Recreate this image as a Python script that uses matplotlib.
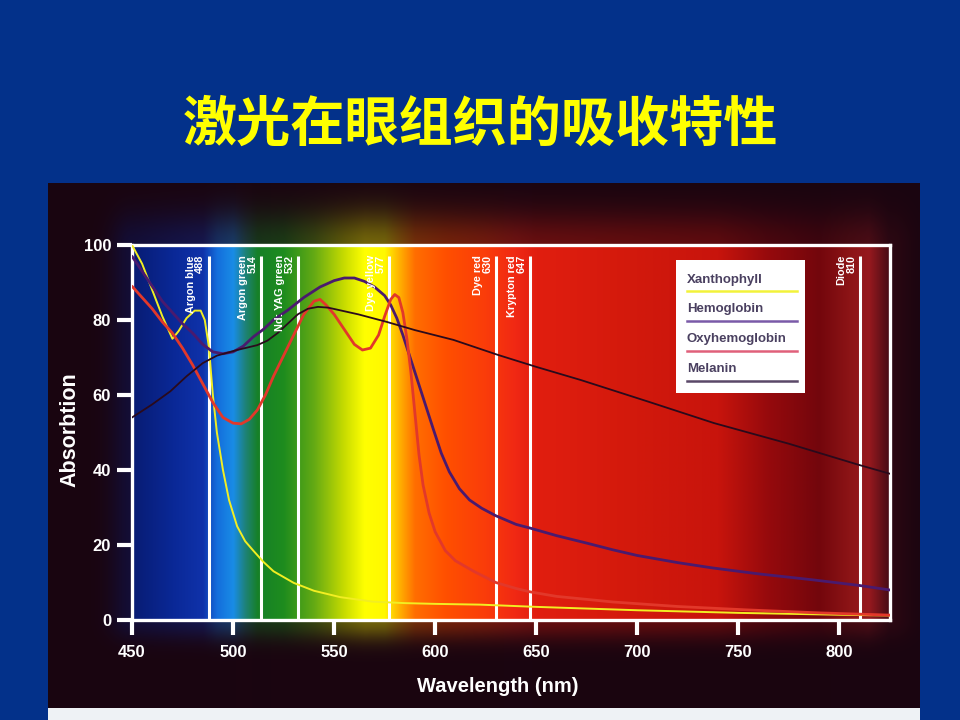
import numpy as np
import matplotlib
matplotlib.use('Agg')
import matplotlib.pyplot as plt
from matplotlib.patches import Rectangle

# ---------------- data ----------------
title = "激光在眼组织的吸收特性"
x_label = "Wavelength (nm)"
y_label = "Absorbtion"
x_ticks = [450, 500, 550, 600, 650, 700, 750, 800]
y_ticks = [0, 20, 40, 60, 80, 100]

laser_nm = [488, 514, 532, 577, 630, 647, 810]
laser_names = ["Argon blue", "Argon green", "Nd: YAG green", "Dye yellow",
               "Dye red", "Krypton red", "Diode"]

xan_nm = [450, 455, 460, 465, 470, 473, 477, 481, 484, 486, 488, 490, 492, 495,
          498, 502, 506, 510, 515, 520, 530, 540, 553, 569, 585, 600, 622, 650,
          700, 750, 800, 825]
xan_abs = [100, 95, 88, 81, 75, 77, 80.5, 82.5, 82.5, 80, 73, 60, 50, 40,
           32, 25, 21, 18.5, 15.5, 13, 9.9, 7.8, 6.1, 4.9, 4.5, 4.3, 4.1, 3.5,
           2.6, 1.9, 1.4, 1.2]

hb_nm = [450, 455, 460, 465, 470, 475, 480, 485, 490, 495, 500, 505, 510, 515,
         520, 527, 535, 543, 550, 555, 560, 565, 570, 575, 578, 581, 584, 587,
         590, 593, 596, 599, 603, 607, 612, 617, 623, 630, 640, 647, 660, 675,
         688, 700, 720, 737, 760, 787, 810, 825]
hb_abs = [97, 93, 89, 85, 82, 79, 76.5, 73.5, 71.5, 71, 71.5, 73, 75.5, 77.5,
          80, 82.6, 86, 88.8, 90.5, 91.2, 91.2, 90.3, 88.8, 86.5, 84, 80.5, 76, 71,
          66, 61, 56, 51, 44.5, 39.5, 35, 32, 29.8, 27.8, 25.5, 24.5, 22.5, 20.5,
          18.7, 17.2, 15.3, 13.9, 12.3, 10.7, 9.2, 8]

oxy_nm = [450, 455, 460, 465, 470, 475, 480, 485, 490, 495, 500, 504, 508, 512,
          516, 520, 525, 530, 535, 540, 543, 546, 550, 555, 560, 564, 568, 572,
          575, 578, 580, 582, 584, 586, 588, 590, 592, 594, 597, 600, 605, 610,
          619, 630, 640, 647, 660, 688, 720, 754, 790, 825]
oxy_abs = [89, 86, 83, 79.5, 76.5, 72.5, 68, 63, 58, 54, 52.5, 52.3, 53.5, 56,
           60, 65, 70.5, 76, 81.5, 85, 85.5, 84, 81.5, 77.5, 73.5, 72, 72.5, 76,
           81, 85.5, 86.8, 86, 82, 75, 66, 55, 44, 36, 28.5, 23.5, 18.5, 15.8,
           13, 10, 8.4, 7.5, 6.3, 4.8, 3.6, 2.7, 1.9, 1.3]

mel_nm = [450, 460, 469, 477, 485, 492, 502, 512, 517, 522, 527, 532, 537, 542,
          547, 552, 562, 576, 590, 609, 631, 650, 672, 705, 738, 775, 810, 825]
mel_abs = [54, 57.5, 61, 65, 68.5, 70.5, 72, 73.3, 74.5, 76.5, 79, 81.5, 83, 83.5,
           83.3, 82.7, 81.5, 79.5, 77.3, 74.7, 70.7, 67.5, 64, 58.3, 52.5, 47, 41.3, 39]

series_names = ["Xanthophyll", "Hemoglobin", "Oxyhemoglobin", "Melanin"]
curve_colors = ["#f2ee22", "#4a1a6e", "#e2382a", "#2a0a1c"]
curve_widths = [1.4, 2.0, 2.0, 1.3]
legend_colors = ["#f2f23a", "#7a5aa8", "#e0607a", "#5a4868"]

# background spectrum colour stops (decoration)
spec_nm = [450, 470, 485, 492, 500, 506, 512, 525, 540, 555, 565, 575, 582, 590,
           605, 625, 640, 650, 700, 740, 765, 790, 805, 815, 825]
spec_rgb = np.array([(8, 28, 115), (10, 40, 150), (15, 50, 170), (20, 110, 220),
                     (25, 140, 230), (30, 130, 120), (22, 128, 40), (30, 140, 30),
                     (100, 170, 20), (200, 220, 0), (255, 255, 0), (255, 248, 0),
                     (255, 180, 0), (255, 110, 0), (255, 80, 0), (250, 60, 10),
                     (240, 40, 20), (225, 30, 15), (210, 25, 12), (200, 20, 12),
                     (150, 10, 12), (115, 6, 12), (140, 20, 22), (150, 25, 30),
                     (70, 12, 22)], dtype=float)

# ---------------- figure ----------------
plt.rcParams['font.family'] = ['Liberation Sans', 'DejaVu Sans']
plt.rcParams['font.weight'] = 'bold'

fig = plt.figure(figsize=(9.6, 7.2), dpi=100, facecolor='#03318a')

# picture background with soft glow
bg = fig.add_axes([48 / 960, 12 / 720, 872 / 960, 525 / 720])
bg.set_axis_off()
W, H = 436, 263
px = np.linspace(48, 920, W)
py = np.linspace(183, 708, H)
lam = 450 + (px - 132) / (758 / 375)
lamc = np.clip(lam, 450, 825)
col = np.stack([np.interp(lamc, spec_nm, spec_rgb[:, k]) for k in range(3)], -1) / 255
dx = np.where(px < 132, (132 - px) / 22, np.where(px > 890, (px - 890) / 22, 0))
dy = np.where(py < 245, (245 - py) / 34, np.where(py > 620, (py - 620) / 20, 0))
d2 = dx[None, :] ** 2 + dy[:, None] ** 2
w = np.exp(-d2) * 0.38
base = np.array([26, 5, 16]) / 255
img = base + (col[None, :, :] - base) * w[:, :, None]
bg.imshow(np.clip(img, 0, 1), extent=[0, 1, 0, 1], aspect='auto', origin='upper',
          interpolation='bilinear')
bg.set_xlim(0, 1)
bg.set_ylim(0, 1)

# bottom white strip
fig.patches.append(Rectangle((48 / 960, 0), 872 / 960, 12 / 720, transform=fig.transFigure,
                             facecolor='#eef2f5', edgecolor='none'))

# main axes
ax = fig.add_axes([132 / 960, 100 / 720, 758 / 960, 375 / 720])
lam_grid = np.linspace(450, 825, 800)
strip = np.stack([np.interp(lam_grid, spec_nm, spec_rgb[:, k]) for k in range(3)], -1) / 255
ax.imshow(strip[None, :, :], extent=[450, 825, 0, 100], aspect='auto',
          interpolation='bilinear', zorder=0)
ax.set_xlim(450, 825)
ax.set_ylim(0, 100)

# laser lines
ax.vlines(laser_nm, 0, 97, colors='white', lw=2.2, zorder=2)
for nm, name in zip(laser_nm, laser_names):
    ax.annotate(f"{name}\n{nm}", xy=(nm, 97.3), xytext=(-2.5, 0), textcoords='offset points',
                rotation=90, ha='right', va='top', multialignment='right',
                color='white', fontsize=7.8, fontweight='bold', linespacing=0.95, zorder=4)

# curves
for xs, ys, c, lw in zip([xan_nm, hb_nm, oxy_nm, mel_nm],
                         [xan_abs, hb_abs, oxy_abs, mel_abs],
                         curve_colors, curve_widths):
    ax.plot(xs, ys, color=c, lw=lw, zorder=3, solid_capstyle='round', solid_joinstyle='round')

# legend (text above line)
ax.add_patch(Rectangle((0.7177, 0.605), 0.1707, 0.355, transform=ax.transAxes,
                       facecolor='white', edgecolor='none', zorder=5))
text_y = [0.907, 0.829, 0.749, 0.669]
line_y = [0.877, 0.797, 0.717, 0.637]
for name, c, ty, ly in zip(series_names, legend_colors, text_y, line_y):
    ax.text(0.732, ty, name, transform=ax.transAxes, color='#4a4060', fontsize=9.5,
            fontweight='bold', ha='left', va='center', zorder=6)
    ax.plot([0.732, 0.877], [ly, ly], transform=ax.transAxes, color=c, lw=1.8, zorder=6)

# spines and ticks
for s in ax.spines.values():
    s.set_color('white')
    s.set_linewidth(2.4)
ax.set_xticks(x_ticks)
ax.set_yticks(y_ticks)
ax.tick_params(axis='x', colors='white', width=3, length=11, pad=7, labelsize=12)
ax.tick_params(axis='y', colors='white', width=3, length=11, pad=4, labelsize=12)
for lbl in ax.get_xticklabels() + ax.get_yticklabels():
    lbl.set_fontweight('bold')

fig.text(498 / 960, 1 - 686 / 720, x_label, color='white', fontsize=14.5, fontweight='bold',
         ha='center', va='center')
fig.text(70 / 960, 1 - 430 / 720, y_label, color='white', fontsize=15.5, fontweight='bold',
         ha='center', va='center', rotation=90)

fig.text(480 / 960, 1 - 125 / 720, title, color='#ffff00', fontsize=39, fontweight='bold',
         ha='center', va='center', family=['Noto Sans CJK SC', 'DejaVu Sans'])

fig.savefig('out.png', dpi=100, facecolor=fig.get_facecolor())
